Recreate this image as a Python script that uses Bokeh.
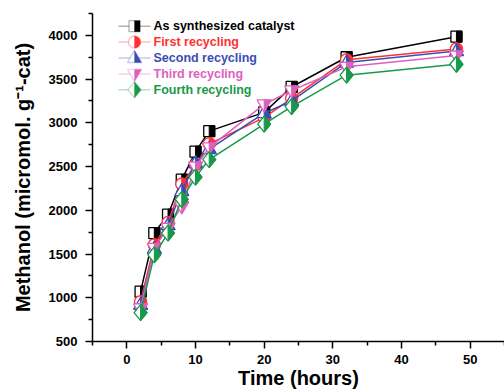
import numpy as np
from bokeh.plotting import figure
from bokeh.models import Range1d, Label, PolyAnnotation, FixedTicker
from bokeh.embed import file_html
from bokeh.resources import INLINE

# ---- data ----
time_h = [2, 4, 6, 8, 10, 12, 20, 24, 32, 48]
as_synth = [1070, 1740, 1950, 2350, 2670, 2905, 3120, 3410, 3750, 3985]
first_rec = [955, 1605, 1860, 2300, 2520, 2760, 3060, 3280, 3720, 3845]
second_rec = [920, 1560, 1830, 2220, 2540, 2700, 3110, 3250, 3690, 3820]
third_rec = [880, 1570, 1800, 2045, 2500, 2720, 3210, 3370, 3640, 3770]
fourth_rec = [830, 1490, 1740, 2125, 2380, 2580, 2985, 3185, 3545, 3670]

series_names = ["As synthesized catalyst", "First recycling", "Second recycling",
                "Third recycling", "Fourth recycling"]
series_values = [as_synth, first_rec, second_rec, third_rec, fourth_rec]
series_colors = ["#000000", "#FF3030", "#3A4DB5", "#DD60BC", "#17994A"]
series_markers = ["square", "circle", "triangle", "inverted_triangle", "diamond"]

x_ticks = [0, 10, 20, 30, 40, 50]
x_minor = [-5, 5, 15, 25, 35, 45, 55]
y_ticks = [500, 1000, 1500, 2000, 2500, 3000, 3500, 4000]
y_minor = [750, 1250, 1750, 2250, 2750, 3250, 3750, 4250]

X0, X1 = -5, 55
Y0, Y1 = 500, 4250
FW, FH = 412, 328

FONT = "Liberation Sans"


def shape_px(kind, right_half):
    if kind == "square":
        s = 5.5
        return [(0, -s), (s, -s), (s, s), (0, s)] if right_half else \
            [(-s, -s), (s, -s), (s, s), (-s, s)]
    if kind == "circle":
        r = 6
        if right_half:
            a = np.linspace(-np.pi / 2, np.pi / 2, 15)
        else:
            a = np.linspace(0, 2 * np.pi, 29)[:-1]
        return [(r * np.cos(t), r * np.sin(t)) for t in a]
    if kind == "triangle":
        return [(0, 7.5), (0, -4.5), (7, -4.5)] if right_half else \
            [(0, 7.5), (-7, -4.5), (7, -4.5)]
    if kind == "inverted_triangle":
        return [(0, -7.5), (0, 4.5), (7, 4.5)] if right_half else \
            [(0, -7.5), (-7, 4.5), (7, 4.5)]
    # diamond
    return [(0, 8), (6.5, 0), (0, -8)] if right_half else \
        [(0, 8), (6.5, 0), (0, -8), (-6.5, 0)]


p = figure(frame_width=FW, frame_height=FH,
           x_range=Range1d(X0, X1), y_range=Range1d(Y0, Y1),
           output_backend="svg", toolbar_location=None,
           min_border_left=92, min_border_right=0,
           min_border_top=13, min_border_bottom=51)
p.outline_line_color = None
p.grid.visible = False
p.background_fill_color = "white"
p.border_fill_color = "white"

for ax in (p.xaxis[0], p.yaxis[0]):
    ax.axis_line_width = 1.5
    ax.major_tick_line_width = 1.5
    ax.minor_tick_line_width = 1.5
    ax.major_tick_out = 7
    ax.major_tick_in = 0
    ax.minor_tick_out = 4
    ax.minor_tick_in = 0
    ax.major_label_text_font = FONT
    ax.major_label_text_font_style = "bold"
    ax.major_label_text_font_size = "13px"
    ax.major_label_text_color = "black"
    ax.axis_label_text_font = FONT
    ax.axis_label_text_font_style = "bold"
    ax.axis_label_text_font_size = "20px"
    ax.axis_label_text_color = "black"

p.xaxis[0].ticker = FixedTicker(ticks=x_ticks, minor_ticks=x_minor)
p.yaxis[0].ticker = FixedTicker(ticks=y_ticks, minor_ticks=y_minor)
p.xaxis.axis_label = "Time (hours)"
p.yaxis.axis_label = "Methanol (micromol. g\u207b\u00b9-cat)"
p.xaxis.major_label_standoff = 6
p.xaxis.axis_label_standoff = 0
p.yaxis.major_label_standoff = 8
p.yaxis.axis_label_standoff = 12

xpp = (X1 - X0) / FW
ypp = (Y1 - Y0) / FH

for name, vals, color, kind in zip(series_names, series_values, series_colors, series_markers):
    p.line(time_h, vals, line_color=color, line_width=1.5)
    full = shape_px(kind, False)
    half = shape_px(kind, True)
    xs_f = [[t + dx * xpp for dx, _ in full] for t in time_h]
    ys_f = [[v + dy * ypp for _, dy in full] for v in vals]
    xs_h = [[t + dx * xpp for dx, _ in half] for t in time_h]
    ys_h = [[v + dy * ypp for _, dy in half] for v in vals]
    p.patches(xs_f, ys_f, fill_color="white", line_color=color, line_width=1.3)
    p.patches(xs_h, ys_h, fill_color=color, line_color=color, line_width=1)

# ---- legend (screen units relative to the frame) ----
for i, (name, color, kind) in enumerate(zip(series_names, series_colors, series_markers)):
    yc = FH - (12.7 + 15.9 * i)
    xm = 42
    p.add_layout(PolyAnnotation(xs=[26, 58], ys=[yc, yc], xs_units="screen", ys_units="screen",
                                line_color=color, line_width=1.5, fill_alpha=0))
    full = shape_px(kind, False)
    half = shape_px(kind, True)
    p.add_layout(PolyAnnotation(xs=[xm + dx for dx, _ in full], ys=[yc + dy for _, dy in full],
                                xs_units="screen", ys_units="screen",
                                line_color=color, line_width=1.3, fill_color="white", fill_alpha=1))
    p.add_layout(PolyAnnotation(xs=[xm + dx for dx, _ in half], ys=[yc + dy for _, dy in half],
                                xs_units="screen", ys_units="screen",
                                line_color=color, line_width=1, fill_color=color, fill_alpha=1))
    p.add_layout(Label(x=61, y=yc, x_units="screen", y_units="screen", text=name,
                       text_color=color, text_font=FONT, text_font_style="bold",
                       text_font_size="12.5px", text_baseline="middle", text_align="left"))

open("out.html", "w").write(file_html(p, INLINE))
